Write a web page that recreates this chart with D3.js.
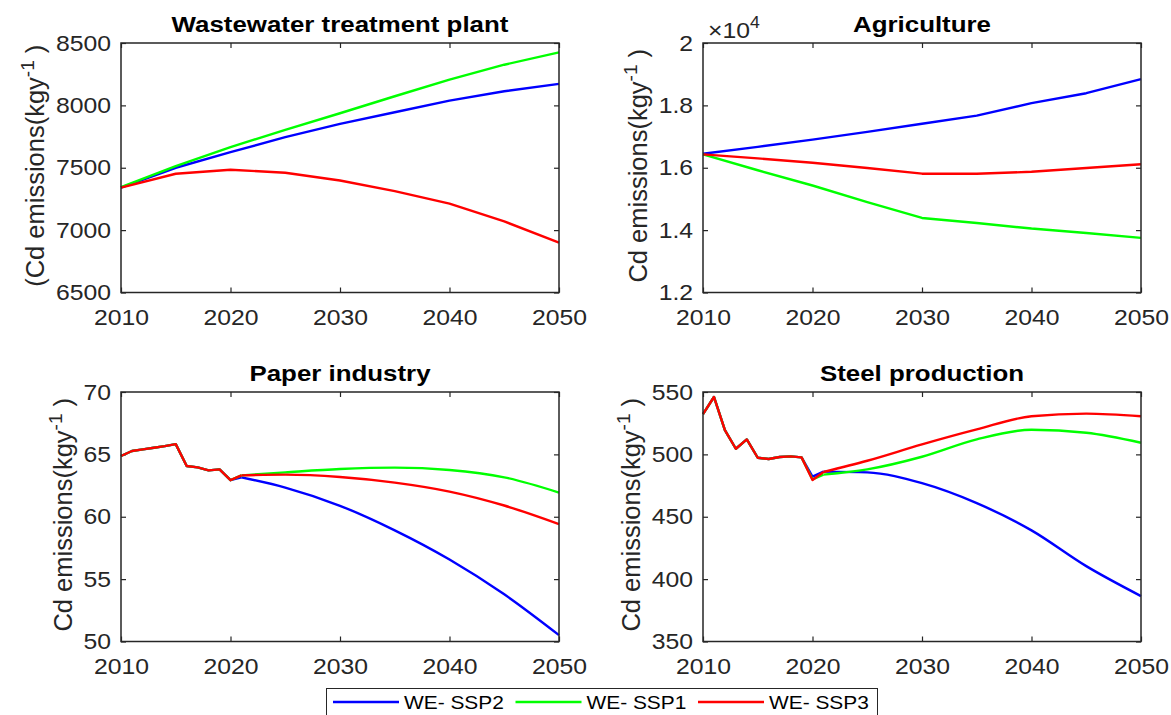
<!DOCTYPE html>
<html>
<head>
<meta charset="utf-8">
<script src="https://cdn.jsdelivr.net/npm/d3@7"></script>
<style>
  body { margin: 0; background: #fff; }
  svg { display: block; }
  text { font-family: "Liberation Sans", Arial, Helvetica, sans-serif; }
</style>
</head>
<body>
<svg id="chart" width="1171" height="715"></svg>
<script>
// ---- Scenario series ----
const seriesNames = ["WE- SSP2", "WE- SSP1", "WE- SSP3"];
const seriesColors = ["#0000ff", "#00ff00", "#ff0000"];

const yearTicks = [2010, 2020, 2030, 2040, 2050];

// Wastewater treatment plant (5-year steps)
const wwtpYears = [2010, 2015, 2020, 2025, 2030, 2035, 2040, 2045, 2050];
const wwtpSSP2 = [7340, 7500, 7625, 7745, 7852, 7945, 8038, 8113, 8172];
const wwtpSSP1 = [7345, 7513, 7665, 7804, 7937, 8073, 8206, 8326, 8425];
const wwtpSSP3 = [7340, 7452, 7484, 7460, 7398, 7313, 7212, 7070, 6900];
const wwtpTicks = [6500, 7000, 7500, 8000, 8500];

// Agriculture (kg/y, axis shown in units of 10^4)
const agriYears = [2010, 2015, 2020, 2025, 2030, 2035, 2040, 2045, 2050];
const agriSSP2 = [16450, 16670, 16900, 17150, 17410, 17670, 18070, 18390, 18840];
const agriSSP1 = [16430, 15920, 15430, 14900, 14390, 14230, 14050, 13910, 13750];
const agriSSP3 = [16430, 16300, 16160, 15990, 15810, 15810, 15870, 15990, 16110];
const agriTicks = [12000, 14000, 16000, 18000, 20000];

// Paper industry (annual history, then 5-year projections)
const paperYears = [2010, 2011, 2012, 2013, 2014, 2015, 2016, 2017, 2018, 2019, 2020, 2021, 2025, 2030, 2035, 2040, 2045, 2050];
const paperSSP2 = [64.87, 65.27, 65.40, 65.53, 65.66, 65.82, 64.07, 63.96, 63.72, 63.80, 62.93, 63.16, 62.34, 60.88, 58.91, 56.57, 53.78, 50.51];
const paperSSP1 = [64.87, 65.27, 65.40, 65.53, 65.66, 65.82, 64.07, 63.96, 63.72, 63.80, 62.93, 63.32, 63.56, 63.83, 63.94, 63.75, 63.16, 61.94];
const paperSSP3 = [64.87, 65.27, 65.40, 65.53, 65.66, 65.82, 64.07, 63.96, 63.72, 63.80, 62.93, 63.32, 63.38, 63.19, 62.74, 62.02, 60.90, 59.41];
const paperTicks = [50, 55, 60, 65, 70];

// Steel production (annual history, then 5-year projections)
const steelYears = [2010, 2011, 2012, 2013, 2014, 2015, 2016, 2017, 2018, 2019, 2020, 2021, 2025, 2030, 2035, 2040, 2045, 2050];
const steelSSP2 = [532.2, 546.0, 519.4, 504.5, 512.0, 497.3, 496.3, 497.9, 498.4, 497.6, 482.2, 486.2, 485.6, 476.9, 460.9, 439.1, 410.4, 386.4];
const steelSSP1 = [532.2, 546.0, 519.4, 504.5, 512.0, 497.3, 496.3, 497.9, 498.4, 497.6, 480.0, 483.8, 488.0, 498.1, 512.0, 519.7, 517.3, 509.3];
const steelSSP3 = [532.2, 546.0, 519.4, 504.5, 512.0, 497.3, 496.3, 497.9, 498.4, 497.6, 479.5, 485.9, 494.9, 508.0, 520.0, 530.6, 532.7, 530.6];
const steelTicks = [350, 400, 450, 500, 550];

// ---- Panel table built from the arrays above ----
const panels = [
  { title: "Wastewater treatment plant", years: wwtpYears, series: [wwtpSSP2, wwtpSSP1, wwtpSSP3],
    yDomain: [6500, 8500], yTicks: wwtpTicks, fmt: d3.format("d"), labelPrefix: "(", smoothFrom: null },
  { title: "Agriculture", years: agriYears, series: [agriSSP2, agriSSP1, agriSSP3],
    yDomain: [12000, 20000], yTicks: agriTicks, fmt: d => d3.format("~g")(d / 1e4), exponent: "4", labelPrefix: "", smoothFrom: null },
  { title: "Paper industry", years: paperYears, series: [paperSSP2, paperSSP1, paperSSP3],
    yDomain: [50, 70], yTicks: paperTicks, fmt: d3.format("d"), labelPrefix: "", smoothFrom: 2021 },
  { title: "Steel production", years: steelYears, series: [steelSSP2, steelSSP1, steelSSP3],
    yDomain: [350, 550], yTicks: steelTicks, fmt: d3.format("d"), labelPrefix: "", smoothFrom: 2021 }
];

// ---- Layout ----
const W = 1171, H = 715;
const colX = [121, 703];
const rowY = [43, 392];
const boxW = 438, boxH = 249.5;
const ink = "#262626";
const tickFont = 22.5, tickStretch = 1.1;

const svg = d3.select("#chart");
svg.append("rect").attr("width", W).attr("height", H).attr("fill", "#fff");

panels.forEach((p, i) => {
  const bx = colX[i % 2], by = rowY[Math.floor(i / 2)];
  const g = svg.append("g").attr("transform", `translate(${bx},${by})`);

  const x = d3.scaleLinear().domain([2010, 2050]).range([0, boxW]);
  const y = d3.scaleLinear().domain(p.yDomain).range([boxH, 0]);

  // Axes with inward ticks on all four sides
  g.append("g").attr("transform", `translate(0,${boxH})`)
    .call(d3.axisBottom(x).tickValues(yearTicks).tickFormat(d3.format("d"))
      .tickSizeInner(-5).tickSizeOuter(0).tickPadding(17));
  g.append("g")
    .call(d3.axisTop(x).tickValues(yearTicks).tickFormat("")
      .tickSizeInner(-5).tickSizeOuter(0));
  const yAxis = g.append("g")
    .call(d3.axisLeft(y).tickValues(p.yTicks).tickFormat(p.fmt)
      .tickSizeInner(-5).tickSizeOuter(0).tickPadding(9));
  g.append("g").attr("transform", `translate(${boxW},0)`)
    .call(d3.axisRight(y).tickValues(p.yTicks).tickFormat("")
      .tickSizeInner(-5).tickSizeOuter(0));

  g.selectAll(".domain").remove();
  g.selectAll(".tick line").attr("stroke", ink).attr("stroke-width", 1.2);
  g.selectAll("g").attr("font-family", null).attr("font-size", null);
  g.selectAll(".tick text")
    .attr("font-size", tickFont)
    .attr("fill", ink)
    .attr("transform", `scale(${tickStretch},1)`);

  // Series lines: history drawn straight, projections smoothed
  p.series.forEach((vals, k) => {
    const pts = p.years.map((yr, j) => [yr, vals[j]]);
    const segs = [];
    if (p.smoothFrom == null) {
      segs.push({ pts, curve: d3.curveLinear });
    } else {
      segs.push({ pts: pts.filter(d => d[0] <= p.smoothFrom), curve: d3.curveLinear });
      segs.push({ pts: pts.filter(d => d[0] >= p.smoothFrom), curve: d3.curveMonotoneX });
    }
    segs.forEach(s => {
      g.append("path")
        .attr("d", d3.line().x(d => x(d[0])).y(d => y(d[1])).curve(s.curve)(s.pts))
        .attr("fill", "none")
        .attr("stroke", seriesColors[k])
        .attr("stroke-width", 2.4)
        .attr("stroke-linejoin", "round");
    });
  });

  // Axes box
  g.append("rect").attr("width", boxW).attr("height", boxH)
    .attr("fill", "none").attr("stroke", ink).attr("stroke-width", 1.5);

  // Title
  g.append("text")
    .attr("transform", `translate(${boxW / 2},-11.5) scale(1.15,1)`)
    .attr("text-anchor", "middle")
    .attr("font-size", 22.5)
    .attr("font-weight", "bold")
    .attr("fill", "#000")
    .text(p.title);

  // Exponent marker
  if (p.exponent) {
    const t = g.append("text")
      .attr("transform", `translate(5,-5.5) scale(${tickStretch},1)`)
      .attr("font-size", tickFont).attr("fill", ink);
    t.append("tspan").text("\u00d710");
    t.append("tspan").attr("font-size", 16).attr("dy", -10).text(p.exponent);
  }

  // Y-axis label, placed just left of the tick labels
  const bb = yAxis.node().getBBox();
  const lx = bb.x - 12;
  const lab = g.append("text")
    .attr("transform", `translate(${lx},${boxH / 2 - 2}) rotate(-90)`)
    .attr("text-anchor", "middle")
    .attr("font-size", 25.5)
    .attr("fill", ink);
  lab.append("tspan").text(p.labelPrefix + "Cd emissions(kgy");
  lab.append("tspan").attr("font-size", 19).attr("dy", -10).text("-1");
  lab.append("tspan").attr("dy", 10).text(" )");
});

// ---- Legend ----
const legend = svg.append("g");
legend.append("rect")
  .attr("x", 326.5).attr("y", 688.5).attr("width", 551).attr("height", 40)
  .attr("fill", "#fff").attr("stroke", ink).attr("stroke-width", 1);
seriesNames.forEach((name, k) => {
  const lx0 = 333 + k * 182.5;
  legend.append("line")
    .attr("x1", lx0).attr("x2", lx0 + 66).attr("y1", 702).attr("y2", 702)
    .attr("stroke", seriesColors[k]).attr("stroke-width", 2.6);
  legend.append("text")
    .attr("transform", `translate(${lx0 + 71},709) scale(1.1,1)`)
    .attr("font-size", 19).attr("fill", "#000")
    .text(name);
});
</script>
</body>
</html>
